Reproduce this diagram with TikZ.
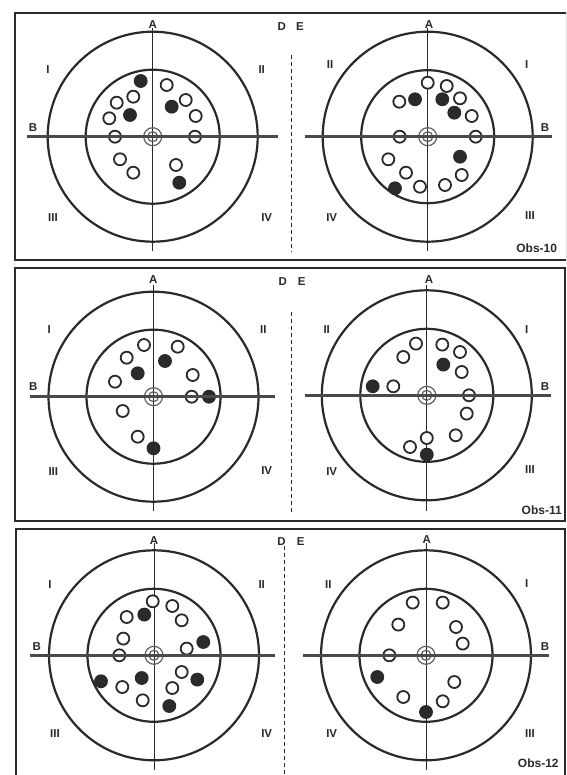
\documentclass[tikz,border=0pt]{standalone}
\usepackage{fontspec}
\setmainfont{Liberation Sans}
\definecolor{ink}{HTML}{2a2a2a}
\tikzstyle{frame} = [draw=ink, line width=2pt]
\tikzstyle{split} = [draw=ink, line width=1pt, dash pattern=on 4pt off 3pt]
\tikzstyle{ring}  = [draw=ink, line width=2.2pt]
\tikzstyle{axis}  = [draw=ink, line width=1pt]
\tikzstyle{bline} = [draw=ink!85, line width=3pt]
\tikzstyle{bull}  = [draw=ink!75, line width=1.2pt]
\tikzstyle{shot}  = [circle, draw=ink, fill=white, line width=1.8pt, minimum size=12pt, inner sep=0pt]
\tikzstyle{hit}   = [circle, draw=ink, fill=ink, line width=1.8pt, minimum size=12pt, inner sep=0pt]
\tikzstyle{lbl}   = [font=\bfseries\fontsize{11.5}{12}\selectfont, text=ink, inner sep=0pt]
\tikzstyle{obs}   = [font=\bfseries\fontsize{12}{12}\selectfont, text=ink, inner sep=0pt]
\begin{document}
\begin{tikzpicture}[x=1pt, y=-1pt]
    \useasboundingbox (0,0) rectangle (566,775);
    \fill[white] (0,0) rectangle (566,775);

    % Panel frames and splits
    \begin{scope}
        \clip (0,0) rectangle (566,775);
        \draw[frame] (14.5,13) rectangle (567,260.5);
        \draw[frame] (15,268) rectangle (565,520.5);
        \draw[frame] (16,528.5) rectangle (565,790);
        \draw[split] (291,55) -- (291,252);
        \draw[split] (291,312) -- (291,514);
        \draw[split] (284,546) -- (284,775);
    \end{scope}

    % Obs-10, left target
    \begin{scope}[shift={(152.7,136.7)}]
        \draw[ring] (0,0) circle (105pt) (0,0) circle (67pt);
        \draw[axis] (0,-109) -- (0,114);
        \draw[bull] (0,0) circle (9pt) (0,0) circle (5pt);
        \fill[ink!75] (0,0) circle (1.8pt);
        \foreach \x/\y [count=\i] in {14/-51.7, -19.4/-40, -36/-34, -43.4/-18.4, 33/-36.7, 43/-20.7, -37.7/0, 42.3/0, -32.7/22.6, -19.4/36, 23.3/28.3}
            \node[shot] (a\i) at (\x,\y) {};
        \foreach \x/\y [count=\i] in {-12/-55.7, -22.7/-21.7, 19/-30, 26.6/46}
            \node[hit] (af\i) at (\x,\y) {};
        \draw[bline] (-126,0) -- (125,0);
    \end{scope}

    % Obs-10, right target
    \begin{scope}[shift={(427.7,136.7)}]
        \draw[ring] (0,0) circle (105pt) (0,0) circle (66.5pt);
        \draw[axis] (0,-109) -- (0,114);
        \draw[bull] (0,0) circle (9pt) (0,0) circle (5pt);
        \fill[ink!75] (0,0) circle (1.8pt);
        \foreach \x/\y [count=\i] in {0/-54, 19/-50.7, -28.4/-35, 32.3/-38.4, 44/-20.7, -28/0, 48/0, -39.4/22.6, -21.7/36, -7.7/50, 17.3/48.3, 34/38.3}
            \node[shot] (b\i) at (\x,\y) {};
        \foreach \x/\y [count=\i] in {-12.7/-37.4, 14.6/-37.4, 26.6/-24, -32.7/51.6, 32.3/20}
            \node[hit] (bf\i) at (\x,\y) {};
        \draw[bline] (-123,0) -- (124,0);
    \end{scope}

    % Obs-11, left target
    \begin{scope}[shift={(153.5,396.7)}]
        \draw[ring] (0,0) circle (105pt) (0,0) circle (67pt);
        \draw[axis] (0,-112) -- (0,114);
        \draw[bull] (0,0) circle (9pt) (0,0) circle (5pt);
        \fill[ink!75] (0,0) circle (1.8pt);
        \foreach \x/\y [count=\i] in {-9.5/-51.7, 24.2/-50, -26.8/-39, -38.5/-15, 39.2/-21.7, 38.2/0, -30.8/14.3, -15.8/40}
            \node[shot] (c\i) at (\x,\y) {};
        \foreach \x/\y [count=\i] in {11.5/-35.7, -15.8/-23.4, 55.5/0, 0/51.6}
            \node[hit] (cf\i) at (\x,\y) {};
        \draw[bline] (-123.5,0) -- (121.5,0);
    \end{scope}

    % Obs-11, right target
    \begin{scope}[shift={(426.8,395.3)}]
        \draw[ring] (0,0) circle (105pt) (0,0) circle (66.5pt);
        \draw[axis] (0,-110) -- (0,116);
        \draw[bull] (0,0) circle (9pt) (0,0) circle (5pt);
        \fill[ink!75] (0,0) circle (1.8pt);
        \foreach \x/\y [count=\i] in {-10.8/-51.7, 15.5/-50.7, -23.5/-38.3, 33.2/-43.3, 34.9/-23.3, -33.5/-9, 42.2/0, 39.9/18.3, 28.9/40, 0/42.7, -16.8/51.7}
            \node[shot] (d\i) at (\x,\y) {};
        \foreach \x/\y [count=\i] in {16.5/-30.7, -54.1/-9, 0/59.3}
            \node[hit] (df\i) at (\x,\y) {};
        \draw[bline] (-122,0) -- (124,0);
    \end{scope}

    % Obs-12, left target
    \begin{scope}[shift={(154,655.3)}]
        \draw[ring] (0,0) circle (105pt) (0,0) circle (66.5pt);
        \draw[axis] (0,-112) -- (0,115);
        \draw[bull] (0,0) circle (9pt) (0,0) circle (5pt);
        \fill[ink!75] (0,0) circle (1.8pt);
        \foreach \x/\y [count=\i] in {-1.3/-54, 18.3/-49.3, -27.3/-38.3, 27.7/-35, -30.7/-16.7, 32.7/-6.7, -34.7/0, 27.7/16.7, -31.7/31.7, 18.3/32.7, -11.3/45}
            \node[shot] (e\i) at (\x,\y) {};
        \foreach \x/\y [count=\i] in {-9.7/-40.7, 49.3/-13.3, -53/26, -12.3/22.7, 43.3/24.3, 15.3/50.7}
            \node[hit] (ef\i) at (\x,\y) {};
        \draw[bline] (-124,0) -- (121,0);
    \end{scope}

    % Obs-12, right target
    \begin{scope}[shift={(426,655.3)}]
        \draw[ring] (0,0) circle (105pt) (0,0) circle (66.5pt);
        \draw[axis] (0,-112) -- (0,115);
        \draw[bull] (0,0) circle (9pt) (0,0) circle (5pt);
        \fill[ink!75] (0,0) circle (1.8pt);
        \foreach \x/\y [count=\i] in {-13.3/-52.7, 16.7/-52.7, -27.7/-30.7, 30/-28.3, 36.7/-11.7, -36.7/0, 28.3/26.7, -22.7/41.7, 16.7/46}
            \node[shot] (f\i) at (\x,\y) {};
        \foreach \x/\y [count=\i] in {-48.7/21.7, 0/56.7}
            \node[hit] (ff\i) at (\x,\y) {};
        \draw[bline] (-123,0) -- (123,0);
    \end{scope}

    % Labels, Obs-10
    \node[lbl] (a1A) at (152.7,25) {A};
    \node[lbl] (a1D) at (281.7,26.7) {D};
    \node[lbl] (a1q1) at (48,70) {I};
    \node[lbl] (a1q2) at (261.7,70) {II};
    \node[lbl] (a1q3) at (53,218) {III};
    \node[lbl] (a1q4) at (266.7,218) {IV};
    \node[lbl] (a1B) at (33,128) {B};
    \node[lbl] (b1E) at (300,26.7) {E};
    \node[lbl] (b1A) at (429,25) {A};
    \node[lbl] (b1q2) at (330,65) {II};
    \node[lbl] (b1q1) at (526.7,65) {I};
    \node[lbl] (b1B) at (545,128) {B};
    \node[lbl] (b1q4) at (331.7,218) {IV};
    \node[lbl] (b1q3) at (530,216) {III};
    \node[obs] (obs10) at (536.7,248) {Obs-10};

    % Labels, Obs-11
    \node[lbl] (c1A) at (153.3,280) {A};
    \node[lbl] (c1D) at (282.7,281.7) {D};
    \node[lbl] (c1q1) at (49.3,330) {I};
    \node[lbl] (c1q2) at (263.3,330) {II};
    \node[lbl] (c1q3) at (53.3,471.7) {III};
    \node[lbl] (c1q4) at (266.7,471) {IV};
    \node[lbl] (c1B) at (33.3,386.7) {B};
    \node[lbl] (d1E) at (301.7,281.7) {E};
    \node[lbl] (d1A) at (429,280) {A};
    \node[lbl] (d1q2) at (326.7,330) {II};
    \node[lbl] (d1q1) at (526.7,330) {I};
    \node[lbl] (d1B) at (545,386.7) {B};
    \node[lbl] (d1q4) at (331.7,471.7) {IV};
    \node[lbl] (d1q3) at (530,470) {III};
    \node[obs] (obs11) at (541.7,510) {Obs-11};

    % Labels, Obs-12
    \node[lbl] (e1A) at (154,541) {A};
    \node[lbl] (e1D) at (281.5,541.7) {D};
    \node[lbl] (e1q1) at (50,585) {I};
    \node[lbl] (e1q2) at (261.7,585) {II};
    \node[lbl] (e1q3) at (55,733.3) {III};
    \node[lbl] (e1q4) at (266.7,733.3) {IV};
    \node[lbl] (e1B) at (36.7,646.7) {B};
    \node[lbl] (f1E) at (300.7,541.7) {E};
    \node[lbl] (f1A) at (426.7,540) {A};
    \node[lbl] (f1q2) at (328.3,585) {II};
    \node[lbl] (f1q1) at (526.7,583.3) {I};
    \node[lbl] (f1B) at (545,646.7) {B};
    \node[lbl] (f1q4) at (331.7,733.3) {IV};
    \node[lbl] (f1q3) at (530,733.3) {III};
    \node[obs] (obs12) at (538.3,763.3) {Obs-12};
\end{tikzpicture}
\end{document}
